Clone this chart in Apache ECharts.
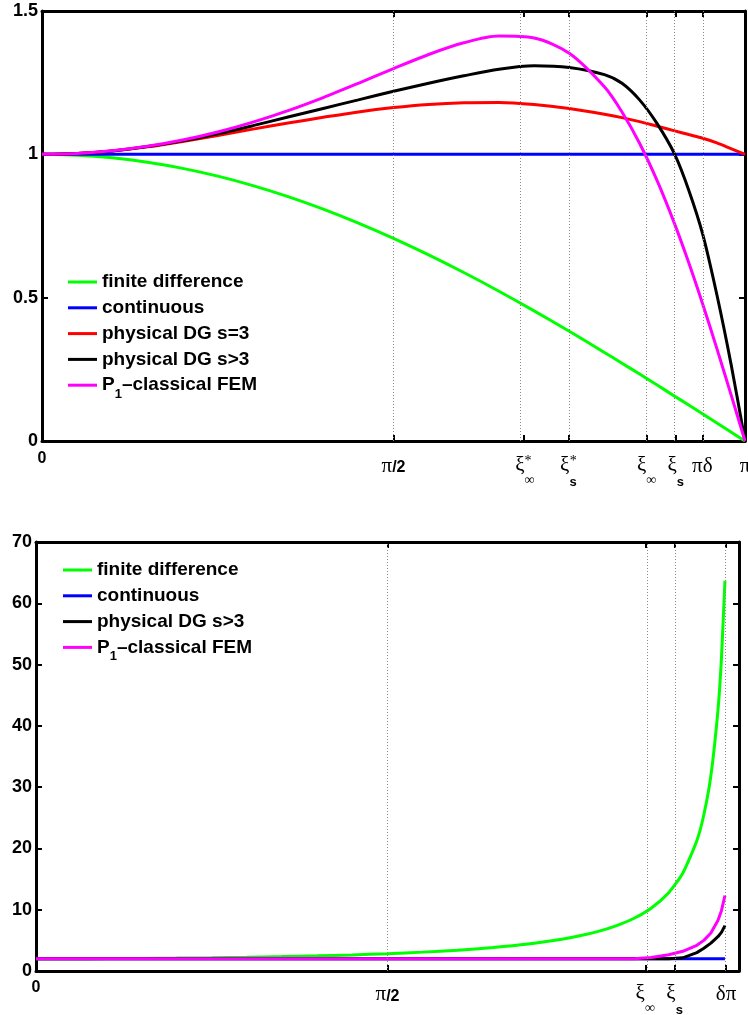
<!DOCTYPE html>
<html>
<head>
<meta charset="utf-8">
<script src="https://cdn.jsdelivr.net/npm/echarts@6/dist/echarts.min.js"></script>
<style>
  html, body { margin: 0; padding: 0; background: #ffffff; }
  #chart { width: 748px; height: 1015px; }
</style>
</head>
<body>
<div id="chart"></div>
<script>
// Abscissa is xi / pi, so 0 .. 1 spans 0 .. pi.

// ---- upper panel: group velocity ratio ----
const topXi = [0, 0.05, 0.1, 0.15, 0.2, 0.25, 0.3, 0.35, 0.4, 0.45, 0.5, 0.55, 0.6, 0.65,
  0.7, 0.75, 0.8, 0.825, 0.85, 0.875, 0.9, 0.92, 0.94, 0.96, 0.98, 1];
const topFiniteDiff = [1, 0.9969, 0.9877, 0.9724, 0.9511, 0.9239, 0.8910, 0.8526, 0.8090, 0.7604,
  0.7071, 0.6494, 0.5878, 0.5225, 0.4540, 0.3827, 0.3090, 0.2714, 0.2334, 0.1951, 0.1564,
  0.1253, 0.0941, 0.0628, 0.0314, 0];
const topContinuous = [1, 1, 1, 1, 1, 1, 1, 1, 1, 1, 1, 1, 1, 1, 1, 1, 1, 1, 1, 1, 1, 1, 1, 1, 1, 1];
const topDgS3 = [1, 1.003, 1.012, 1.026, 1.045, 1.066, 1.088, 1.109, 1.129, 1.148, 1.163, 1.174,
  1.180, 1.181, 1.174, 1.160, 1.140, 1.128, 1.114, 1.098, 1.082, 1.069, 1.056, 1.040, 1.020, 1.0];
const topDgS4 = [1, 1.003, 1.012, 1.027, 1.047, 1.072, 1.100, 1.130, 1.160, 1.190, 1.220, 1.248,
  1.274, 1.297, 1.309, 1.303, 1.278, 1.248, 1.190, 1.107, 1.0, 0.875, 0.72, 0.51, 0.27, 0];
const topP1Fem = [1, 1.0031, 1.0124, 1.0279, 1.0497, 1.0778, 1.1122, 1.1525, 1.1981, 1.2477,
  1.2990, 1.3482, 1.3890, 1.4124, 1.4056, 1.3526, 1.2354, 1.1477, 1.0387, 0.9081, 0.7566,
  0.6217, 0.4763, 0.3224, 0.1627, 0];

const topYTicks = [0, 0.5, 1, 1.5];
const topYLabels = ['0', '0.5', '1', '1.5'];
const topXTicks = [0, 0.5, 0.6847, 0.7487, 0.8601, 0.9014, 0.9393, 1];
const topXLabels = ['{n0|0}', '{pi|π}{num|/2}', '{xi|ξ}{inf|∞}{stI|*}', '{xi|ξ}{s|s}{stS|*}',
  '{xi|ξ}{inf|∞}', '{xi|ξ}{s|s}', '{pi|πδ}', '{pi|π}'];
const topGuides = [0.5, 0.6847, 0.7487, 0.8601, 0.9014, 0.9393];

// ---- lower panel: scaled inverse ratio ----
const bottomXi = [0, 0.05, 0.1, 0.15, 0.2, 0.25, 0.3, 0.35, 0.4, 0.45, 0.5, 0.55, 0.6, 0.65,
  0.7, 0.75, 0.775, 0.8, 0.825, 0.85, 0.875, 0.9, 0.92, 0.94, 0.95, 0.96, 0.97, 0.975, 0.98];
const bottomFiniteDiff = [2, 2.0062, 2.0249, 2.0568, 2.1029, 2.1648, 2.2447, 2.3457, 2.4721,
  2.6302, 2.8284, 3.0796, 3.4026, 3.8278, 4.4054, 5.2263, 5.7784, 6.4721, 7.3681, 8.5673,
  10.2517, 12.785, 15.958, 21.252, 25.491, 31.852, 42.457, 50.94, 63.672];
const bottomContinuous = [2, 2, 2, 2, 2, 2, 2, 2, 2, 2, 2, 2, 2, 2, 2, 2, 2, 2, 2, 2, 2, 2, 2,
  2, 2, 2, 2, 2, 2];
const bottomDgS4 = [2, 2, 2, 2, 2, 2, 2, 2, 2, 2, 2, 2, 2, 2, 2, 2, 2, 2, 2, 2, 2, 2, 2.15,
  3.0, 3.7, 4.55, 5.6, 6.3, 7.4];
const bottomP1Fem = [2, 2, 2, 2, 2, 2, 2, 2, 2, 2, 2, 2, 2, 2, 2, 2, 2, 2, 2, 2, 2.2024,
  2.6433, 3.2169, 4.1992, 4.9966, 6.2027, 8.225, 9.849, 12.2903];

const bottomYTicks = [0, 10, 20, 30, 40, 50, 60, 70];
const bottomYLabels = ['0', '10', '20', '30', '40', '50', '60', '70'];
const bottomXTicks = [0, 0.5, 0.8667, 0.9084, 0.9815];
const bottomXLabels = ['{n0|0}', '{pi|π}{num|/2}', '{xi|ξ}{inf|∞}', '{xi|ξ}{s|s}', '{pi|δπ}'];
const bottomGuides = [0.5, 0.8667, 0.9084, 0.9815];

const NAMES = ['finite difference', 'continuous', 'physical DG s=3', 'physical DG s>3', 'P1–classical FEM'];
const COLORS = ['#00ff00', '#0000ff', '#ff0000', '#000000', '#ff00ff'];

const SANS = 'Liberation Sans, Arial, sans-serif';
const SERIF = 'Liberation Serif, Times New Roman, serif';

const xRich = {
  n0:  { fontFamily: SANS, fontWeight: 'bold', fontSize: 16, lineHeight: 20, color: '#000', padding: [0, 0, 12, 0] },
  num: { fontFamily: SANS, fontWeight: 'bold', fontSize: 16, lineHeight: 20, color: '#000', padding: [6, 0, 0, 0] },
  pi:  { fontFamily: SERIF, fontSize: 21, lineHeight: 20, color: '#000', padding: [2, 0, 0, 0] },
  xi:  { fontFamily: SERIF, fontSize: 21, lineHeight: 20, color: '#000' },
  inf: { fontFamily: SERIF, fontSize: 14, lineHeight: 20, color: '#000', padding: [30, 0, 0, 0] },
  s:   { fontFamily: SANS, fontWeight: 'bold', fontSize: 13, lineHeight: 20, color: '#000', padding: [34, 0, 0, 0] },
  stI: { fontFamily: SERIF, fontSize: 14, lineHeight: 20, color: '#000', padding: [0, 0, 7, -10] },
  stS: { fontFamily: SERIF, fontSize: 14, lineHeight: 20, color: '#000', padding: [0, 0, 7, -7] }
};

function pickLabel(values, labels) {
  return function (v) {
    let best = 0;
    for (let i = 1; i < values.length; i++) {
      if (Math.abs(values[i] - v) < Math.abs(values[best] - v)) best = i;
    }
    return labels[best];
  };
}

const axisLineStyle = { color: '#000', width: 3 };
const tickStyle = { color: '#000', width: 2 };

function xAxisPair(grid, ticks, labels, margin) {
  return [
    {
      gridIndex: grid, type: 'value', min: 0, max: 1, position: 'bottom',
      axisLine: { onZero: false, lineStyle: axisLineStyle },
      axisTick: { inside: true, length: 6, lineStyle: tickStyle, customValues: ticks },
      axisLabel: { customValues: ticks, margin: margin, formatter: pickLabel(ticks, labels), rich: xRich },
      splitLine: { show: false }
    },
    {
      gridIndex: grid, type: 'value', min: 0, max: 1, position: 'top',
      axisLine: { onZero: false, lineStyle: axisLineStyle },
      axisTick: { inside: true, length: 6, lineStyle: tickStyle, customValues: ticks },
      axisLabel: { show: false },
      splitLine: { show: false }
    }
  ];
}

function yAxisPair(grid, ticks, labels) {
  const lo = ticks[0], hi = ticks[ticks.length - 1], step = ticks[1] - ticks[0];
  return [
    {
      gridIndex: grid, type: 'value', min: lo, max: hi, interval: step, position: 'left',
      axisLine: { show: true, onZero: false, lineStyle: axisLineStyle },
      axisTick: { show: true, inside: true, length: 6, lineStyle: tickStyle },
      axisLabel: {
        margin: 4, color: '#000', fontFamily: SANS, fontWeight: 'bold', fontSize: 18,
        padding: [3, 0, 0, 0], formatter: pickLabel(ticks, labels)
      },
      splitLine: { show: false }
    },
    {
      gridIndex: grid, type: 'value', min: lo, max: hi, interval: step, position: 'right',
      axisLine: { show: true, onZero: false, lineStyle: axisLineStyle },
      axisTick: { show: true, inside: true, length: 6, lineStyle: tickStyle },
      axisLabel: { show: false },
      splitLine: { show: false }
    }
  ];
}

function curve(name, color, xs, ys, xIdx, yIdx, smooth) {
  return {
    name: name, type: 'line', xAxisIndex: xIdx, yAxisIndex: yIdx,
    data: xs.map((x, i) => [x, ys[i]]),
    showSymbol: false, symbol: 'none', smooth: smooth, clip: true,
    lineStyle: { color: color, width: 3 }, itemStyle: { color: color },
    z: 3
  };
}

function guides(values, xIdx, yIdx) {
  return {
    type: 'line', xAxisIndex: xIdx, yAxisIndex: yIdx, data: [], silent: true, z: 2,
    markLine: {
      silent: true, symbol: ['none', 'none'], label: { show: false },
      lineStyle: { color: '#8a8a8a', width: 1, type: [1, 2] },
      emphasis: { disabled: true },
      data: values.map(v => ({ xAxis: v }))
    }
  };
}

// Subscript: the top/bottom padding pair moves the glyph down without growing the row.
const legendText = {
  fontFamily: SANS, fontWeight: 'bold', fontSize: 19, color: '#000', lineHeight: 20,
  rich: {
    t:   { fontFamily: SANS, fontWeight: 'bold', fontSize: 19, color: '#000', lineHeight: 20 },
    sub: { fontFamily: SANS, fontWeight: 'bold', fontSize: 13, color: '#000', lineHeight: 20, padding: [9, 0, -9, 0] }
  }
};
function legendFormatter(name) {
  if (name === NAMES[4]) return '{t|P}{sub|1}{t|–classical FEM}';
  return '{t|' + name + '}';
}
function legend(names, left, top) {
  return {
    data: names, orient: 'vertical', left: left, top: top, padding: 0,
    itemGap: 5.8, itemWidth: 29, itemHeight: 3, icon: 'rect', selectedMode: false,
    textStyle: legendText, formatter: legendFormatter
  };
}

const chart = echarts.init(document.getElementById('chart'), null, { renderer: 'canvas' });

chart.setOption({
  animation: false,
  backgroundColor: '#ffffff',
  grid: [
    { left: 42, top: 11, width: 703, height: 430, outerBoundsMode: 'none' },
    { left: 36, top: 542, width: 703, height: 429, outerBoundsMode: 'none' }
  ],
  xAxis: [].concat(
    xAxisPair(0, topXTicks, topXLabels, 14),
    xAxisPair(1, bottomXTicks, bottomXLabels, 12.5)
  ),
  yAxis: [].concat(
    yAxisPair(0, topYTicks, topYLabels),
    yAxisPair(1, bottomYTicks, bottomYLabels)
  ),
  legend: [
    legend(NAMES, 68, 272),
    legend([NAMES[0], NAMES[1], NAMES[3], NAMES[4]], 63, 560)
  ],
  series: [
    guides(topGuides, 0, 0),
    curve(NAMES[0], COLORS[0], topXi, topFiniteDiff, 0, 0, 0.3),
    curve(NAMES[1], COLORS[1], topXi, topContinuous, 0, 0, false),
    curve(NAMES[2], COLORS[2], topXi, topDgS3, 0, 0, 0.3),
    curve(NAMES[3], COLORS[3], topXi, topDgS4, 0, 0, 0.3),
    curve(NAMES[4], COLORS[4], topXi, topP1Fem, 0, 0, 0.3),
    guides(bottomGuides, 2, 2),
    curve(NAMES[0], COLORS[0], bottomXi, bottomFiniteDiff, 2, 2, 0.2),
    curve(NAMES[1], COLORS[1], bottomXi, bottomContinuous, 2, 2, false),
    curve(NAMES[3], COLORS[3], bottomXi, bottomDgS4, 2, 2, false),
    curve(NAMES[4], COLORS[4], bottomXi, bottomP1Fem, 2, 2, false)
  ]
});
</script>
</body>
</html>
